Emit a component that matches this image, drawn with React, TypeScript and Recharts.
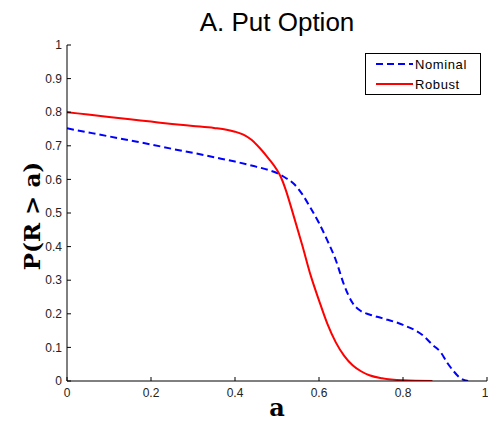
import { Label, Legend, Line, LineChart, XAxis, YAxis } from "recharts";

// values
const nominalA = [0, 0.05, 0.1, 0.15, 0.2, 0.25, 0.3, 0.35, 0.4, 0.45, 0.48, 0.5, 0.52, 0.54, 0.56, 0.58, 0.6, 0.62, 0.64, 0.66, 0.68, 0.7, 0.72, 0.75, 0.8, 0.85, 0.87, 0.89, 0.905, 0.92, 0.935, 0.955];
const nominalP = [0.752, 0.74, 0.728, 0.716, 0.704, 0.691, 0.679, 0.666, 0.653, 0.638, 0.628, 0.619, 0.605, 0.587, 0.556, 0.515, 0.47, 0.418, 0.36, 0.285, 0.232, 0.208, 0.198, 0.187, 0.167, 0.133, 0.108, 0.085, 0.055, 0.03, 0.01, 0];

const robustA = [0, 0.05, 0.1, 0.15, 0.2, 0.25, 0.3, 0.35, 0.38, 0.4, 0.42, 0.44, 0.46, 0.48, 0.5, 0.51, 0.52, 0.54, 0.56, 0.58, 0.6, 0.62, 0.64, 0.66, 0.68, 0.7, 0.72, 0.75, 0.8, 0.87];
const robustP = [0.8, 0.793, 0.786, 0.779, 0.772, 0.765, 0.759, 0.753, 0.748, 0.742, 0.733, 0.717, 0.692, 0.662, 0.628, 0.605, 0.572, 0.49, 0.405, 0.315, 0.24, 0.17, 0.115, 0.075, 0.047, 0.029, 0.017, 0.008, 0.002, 0];

const xTicks = [0, 0.2, 0.4, 0.6, 0.8, 1];
const yTicks = [0, 0.1, 0.2, 0.3, 0.4, 0.5, 0.6, 0.7, 0.8, 0.9, 1];

const nominal = nominalA.map((a, i) => ({ a, p: nominalP[i] }));
const robust = robustA.map((a, i) => ({ a, p: robustP[i] }));

const sans = "'Liberation Sans', Arial, sans-serif";
const serif = "'DejaVu Serif', serif";

function LegendBox({ payload }: any) {
  return (
    <div
      style={{
        width: 116,
        height: 42,
        boxSizing: "border-box",
        border: "1px solid #000",
        background: "#fff",
        position: "relative",
      }}
    >
      {(payload || []).map((entry: any, i: number) => (
        <div
          key={entry.value}
          style={{ position: "absolute", left: 0, top: 1 + i * 20, height: 18, display: "flex", alignItems: "center" }}
        >
          <svg width={49} height={18} style={{ display: "block" }}>
            <line
              x1={10}
              x2={47}
              y1={9}
              y2={9}
              stroke={entry.color}
              strokeWidth={2}
              strokeDasharray={entry.payload?.strokeDasharray}
            />
          </svg>
          <span style={{ fontFamily: sans, fontSize: 13, letterSpacing: 0.6, color: "#000" }}>{entry.value}</span>
        </div>
      ))}
    </div>
  );
}

function YTitle({ viewBox }: any) {
  const x = viewBox.x + 40;
  const y = viewBox.y + viewBox.height / 2 + 3;
  return (
    <text x={x} y={y} transform={`rotate(-90 ${x} ${y})`} textAnchor="middle" fontFamily={serif} fontWeight="bold" fontSize={23} fill="#000">
      P(R &gt; a)
    </text>
  );
}

function XTitle({ viewBox }: any) {
  const x = viewBox.x + viewBox.width / 2;
  const y = viewBox.y + 35;
  return (
    <text x={x} y={y} textAnchor="middle" fontFamily={serif} fontWeight="bold" fontSize={24} fill="#000">
      a
    </text>
  );
}

export default function App() {
  return (
    <div style={{ position: "absolute", left: 0, top: 0, width: 488, height: 423, background: "#fff" }}>
      <div
        style={{
          position: "absolute",
          left: 0,
          width: 554,
          top: 9,
          textAlign: "center",
          fontFamily: sans,
          fontSize: 26,
          lineHeight: "26px",
          color: "#000",
        }}
      >
        A. Put Option
      </div>
      <LineChart width={488} height={423} margin={{ top: 45, right: 1, left: 0, bottom: 0 }}>
        <XAxis
          type="number"
          dataKey="a"
          domain={[0, 1]}
          ticks={xTicks}
          height={42}
          tickSize={-4}
          tickMargin={11}
          axisLine={{ stroke: "#000" }}
          tickLine={{ stroke: "#000" }}
          tick={{ fill: "#222", fontSize: 12, fontFamily: sans }}
          allowDataOverflow
        >
          <Label content={<XTitle />} />
        </XAxis>
        <YAxis
          type="number"
          domain={[0, 1]}
          ticks={yTicks}
          width={67}
          tickSize={-4}
          tickMargin={9}
          axisLine={{ stroke: "#000" }}
          tickLine={{ stroke: "#000" }}
          tick={{ fill: "#222", fontSize: 12, fontFamily: sans }}
          allowDataOverflow
        >
          <Label content={<YTitle />} />
        </YAxis>
        <Legend
          layout="horizontal"
          verticalAlign="middle"
          align="center"
          content={<LegendBox />}
          wrapperStyle={{ position: "absolute", left: 365, top: 53, width: 116, height: 42 }}
        />
        <Line
          data={nominal}
          dataKey="p"
          name="Nominal"
          type="monotone"
          stroke="#0000ff"
          strokeWidth={2}
          strokeDasharray="7 4"
          dot={false}
          isAnimationActive={false}
        />
        <Line
          data={robust}
          dataKey="p"
          name="Robust"
          type="monotone"
          stroke="#ff0000"
          strokeWidth={2}
          dot={false}
          isAnimationActive={false}
        />
      </LineChart>
    </div>
  );
}
